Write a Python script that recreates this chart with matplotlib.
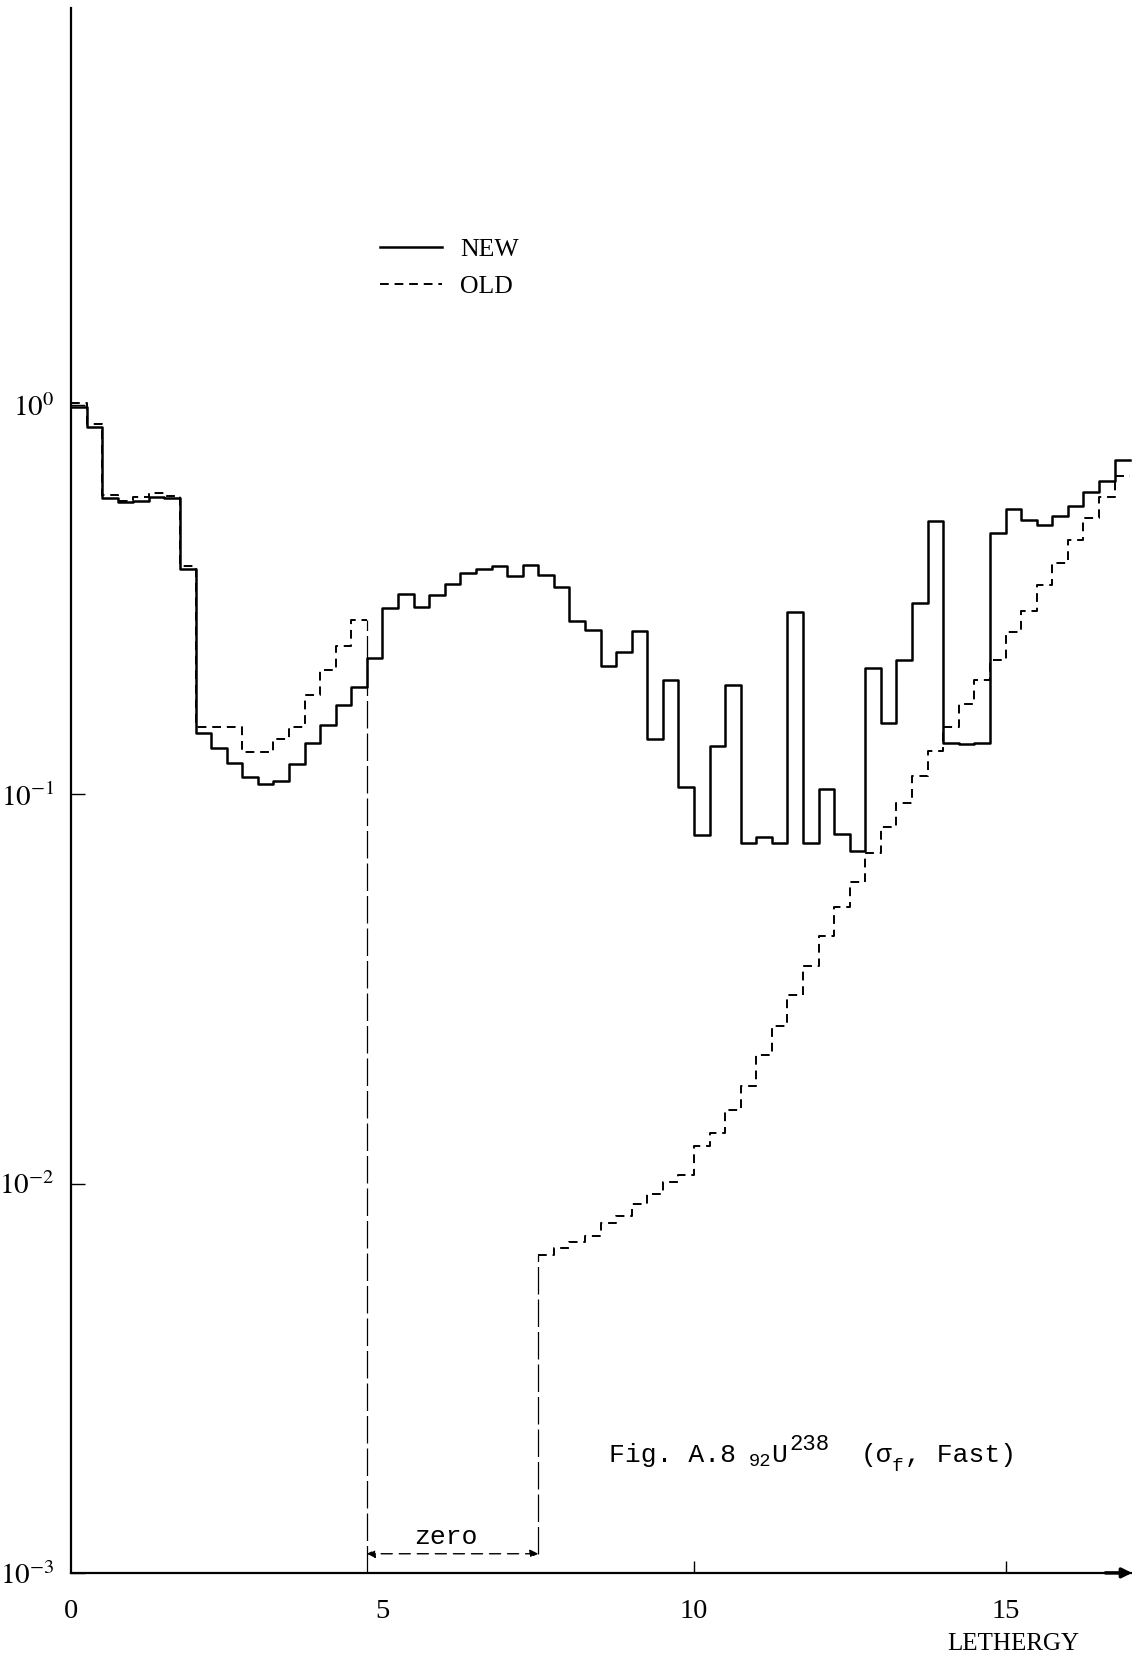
# -*- coding: UTF-8 -*-
import matplotlib.pyplot as plt
import numpy as np

# U-238 fission cross section (fast), NEW vs OLD group constants
# lethargy groups, width 0.25
du = 0.25
n_groups = 68

sig_new = [0.99, 0.877, 0.578, 0.565, 0.568, 0.582, 0.577, 0.380, 0.1436, 0.1318,
           0.1202, 0.1107, 0.1062, 0.1084, 0.1194, 0.1352, 0.1507, 0.1694, 0.1884, 0.2234,
           0.301, 0.328, 0.302, 0.325, 0.346, 0.370, 0.380, 0.385, 0.364, 0.388,
           0.366, 0.340, 0.279, 0.264, 0.214, 0.232, 0.263, 0.139, 0.197, 0.1042,
           0.0785, 0.133, 0.191, 0.0752, 0.0776, 0.0752, 0.294, 0.0748, 0.1033, 0.0791,
           0.0716, 0.211, 0.1524, 0.221, 0.310, 0.504, 0.1352, 0.1346, 0.1352, 0.468,
           0.540, 0.508, 0.492, 0.519, 0.551, 0.598, 0.638, 0.723]

# groups 20-30 of the old set are zero
sig_old = [1.01, 0.893, 0.587, 0.566, 0.582, 0.596, 0.583, 0.385, 0.1486, 0.1486,
           0.1486, 0.1288, 0.1288, 0.1384, 0.1486, 0.180, 0.2084, 0.2404, 0.281, 0.0,
           0.0, 0.0, 0.0, 0.0, 0.0, 0.0, 0.0, 0.0, 0.0, 0.0,
           0.00656, 0.00682, 0.00710, 0.00733, 0.00791, 0.00826, 0.00887, 0.00940, 0.01012, 0.01052,
           0.0125, 0.01346, 0.01545, 0.01782, 0.02138, 0.02547, 0.03048, 0.03622, 0.04325, 0.0514,
           0.0597, 0.0708, 0.0822, 0.0951, 0.1114, 0.1291, 0.1486, 0.171, 0.197, 0.222,
           0.261, 0.296, 0.345, 0.394, 0.450, 0.512, 0.579, 0.658]

x_ticks = [0, 5, 10, 15]
x_ticklabels = ['0', '5', '10', '15']
y_ticks = [1e-3, 1e-2, 1e-1, 1e0]
y_ticklabels = [r'$10^{-3}$', r'$10^{-2}$', r'$10^{-1}$', r'$10^{0}$']

# caption pieces, typewriter style: (text, size, gap before in points, vertical shift in points)
caption = [('Fig. A.8', 19, 0, 0), ('92', 13.5, 9, -3), ('U', 19, 0, 0), ('238', 16, 2, 8.5),
           ('(σ', 19, 22, 0), ('f', 14, 0, -6.5), (', Fast)', 19, 1, 0)]


def pic_sigma_f():
    fig = plt.figure(dpi=100, figsize=(11.32, 16.62))
    ax = fig.add_axes([0.0627, 0.0536, 0.9373, 0.9416])

    edges = np.arange(n_groups + 1) * du
    new = np.array(sig_new)
    old = np.array(sig_old)
    old_plot = np.where(old > 0, old, np.nan)

    ax.step(edges, np.append(new, new[-1]), where='post', color='black', lw=1.8, label='NEW')
    ax.step(edges, np.append(old_plot, old_plot[-1]), where='post', color='black', lw=1.4,
            linestyle=(0, (4.5, 3)), label='OLD')

    # zero range of the old set
    zero = np.where(old == 0)[0]
    x0, x1 = edges[zero[0]], edges[zero[-1] + 1]
    y_zero = 1.12e-3
    ax.vlines(x0, 1e-3, old[zero[0] - 1], colors='black', lw=0.9, linestyles=(0, (22, 4)))
    ax.vlines(x1, y_zero, old[zero[-1] + 1], colors='black', lw=0.9, linestyles=(0, (22, 4)))
    ax.annotate('', xy=(x0, y_zero), xytext=(x1, y_zero),
                arrowprops=dict(arrowstyle='<|-|>', color='black', lw=1.0, linestyle=(0, (8, 5)),
                                mutation_scale=12, shrinkA=0, shrinkB=0))
    ax.text((x0 + x1) / 2 - 0.1, y_zero * 1.03, 'zero', ha='center', va='bottom', fontsize=19,
            family='Liberation Mono')

    ax.set_yscale('log')
    ax.set_xlim(0, 17.03)
    ax.set_ylim(1e-3, 10 ** 1.02)
    ax.set_xticks(x_ticks)
    ax.set_xticklabels(x_ticklabels, fontsize=20.5)
    ax.set_yticks(y_ticks)
    ax.set_yticklabels(y_ticklabels, fontsize=21)
    ax.yaxis.set_minor_locator(plt.NullLocator())
    ax.tick_params(axis='x', direction='in', length=9, width=1.0, pad=19)
    ax.tick_params(axis='y', direction='in', length=10, width=1.0, pad=12)
    for t in ax.xaxis.get_major_ticks()[:2]:
        t.tick1line.set_visible(False)

    ax.spines['top'].set_visible(False)
    ax.spines['right'].set_visible(False)
    ax.spines['left'].set_linewidth(1.6)
    ax.spines['bottom'].set_linewidth(1.6)
    # arrow on the lethargy axis
    ax.annotate('', xy=(1.0, 0), xytext=(0.975, 0), xycoords='axes fraction',
                arrowprops=dict(arrowstyle='-|>', color='black', lw=2.5, mutation_scale=14,
                                shrinkA=0, shrinkB=0))

    ax.legend(loc='upper left', bbox_to_anchor=(0.336, 0.857), bbox_transform=fig.transFigure,
              frameon=False, fontsize=18.5, handlelength=2.4, handletextpad=0.7,
              labelspacing=0.55, borderpad=0, borderaxespad=0)

    # figure caption, typed piece by piece on a common baseline
    base_y = 1 - 1462 / 1662
    mono = ['Liberation Mono', 'DejaVu Sans Mono']
    prev = fig.text(609 / 1132, base_y, caption[0][0], ha='left', va='baseline',
                    fontsize=caption[0][1], family=mono)
    for txt, size, gap, dy in caption[1:]:
        prev = ax.annotate(txt, xy=(1, base_y), xycoords=(prev, 'figure fraction'),
                           xytext=(gap, dy), textcoords='offset points', ha='left', va='baseline',
                           fontsize=size, family=mono, annotation_clip=False)

    fig.text(1013 / 1132, 1 - 1644 / 1662, 'LETHERGY', ha='center', va='center', fontsize=18)

    plt.savefig('out.png')


if __name__ == '__main__':
    plt.rcParams['font.family'] = ['Liberation Serif', 'DejaVu Serif']
    plt.rcParams['mathtext.fontset'] = 'stix'
    pic_sigma_f()
